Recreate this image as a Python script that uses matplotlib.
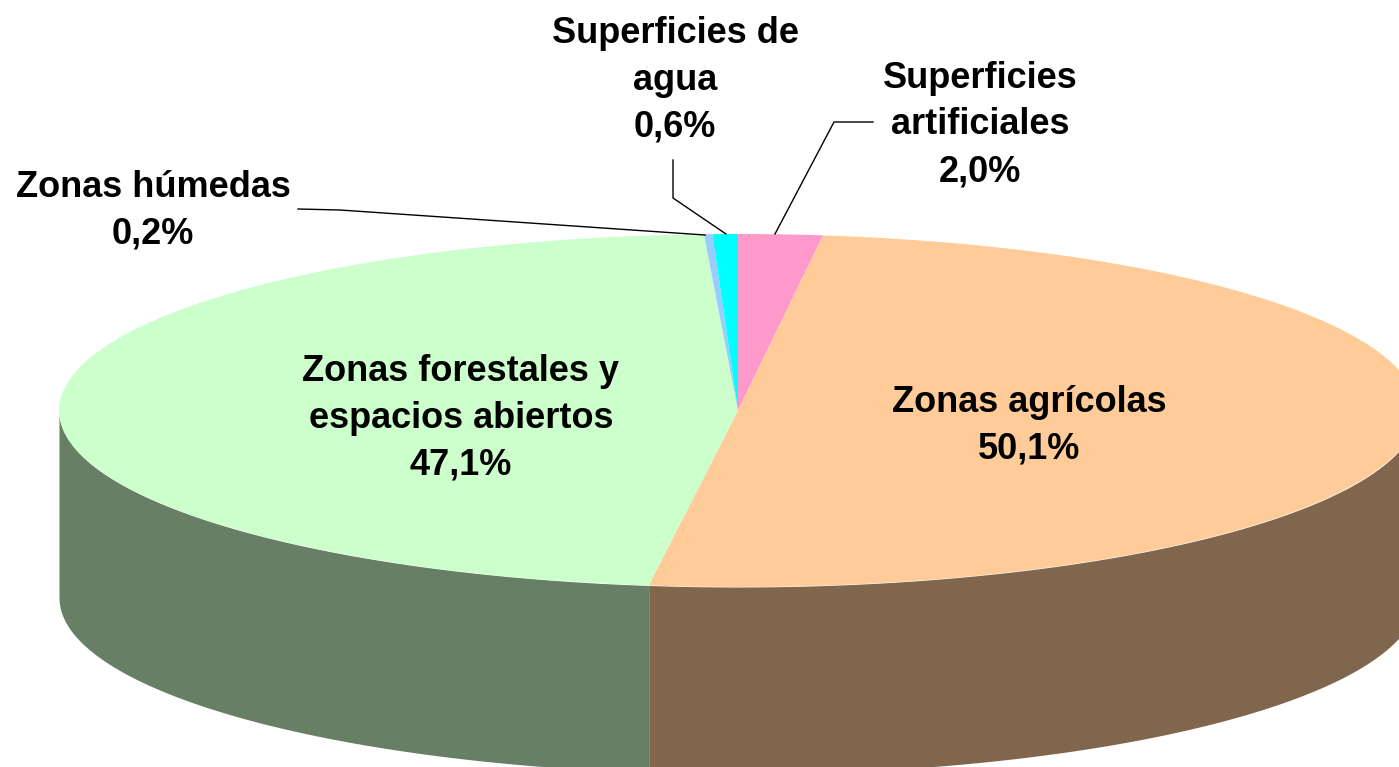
import numpy as np
import matplotlib
matplotlib.use("Agg")
import matplotlib.pyplot as plt

categories = ["Superficies artificiales", "Zonas agrícolas", "Zonas forestales y espacios abiertos",
              "Zonas húmedas", "Superficies de agua"]
values = [2.0, 50.1, 47.1, 0.2, 0.6]
top_colors = ["#FF99CC", "#FFCC99", "#CCFFCC", "#99CCFF", "#00FFFF"]
side_right = "#80664C"
side_left = "#677F64"
labels = ["Superficies\nartificiales\n2,0%", "Zonas agrícolas\n50,1%",
          "Zonas forestales y\nespacios abiertos\n47,1%", "Zonas húmedas\n0,2%",
          "Superficies de\nagua\n0,6%"]

W, H = 1399, 767
CX, CY, RX, RY, DEPTH = 738, 410.5, 679, 176.5, 187

plt.rcParams["font.family"] = ["Liberation Sans", "DejaVu Sans"]
fig = plt.figure(figsize=(W / 100, H / 100), dpi=100)

# pie axes: circle in data units, squashed to ellipse by the limits
ax = fig.add_axes([0, 0, 1, 1])
k = RX / RY
ax.pie(values, colors=top_colors, startangle=90, counterclock=False, radius=RX,
       wedgeprops=dict(linewidth=0, zorder=3))
ax.set_aspect("auto")
ax.set_xlim(-CX, W - CX)
ax.set_ylim((CY - H) * k, CY * k)

# extruded side, split where the agricultural wedge ends
split = 360 * (values[0] + values[1]) / sum(values)
def side(t0, t1, color):
    t = np.radians(np.linspace(t0, t1, 200))
    x = RX * np.sin(t)
    y = RX * np.cos(t)
    ax.fill_between(x, y - DEPTH * k, y, color=color, linewidth=0, zorder=2)
side(90, split, side_right)
side(split, 270, side_left)

# overlay in pixel coordinates
ov = fig.add_axes([0, 0, 1, 1])
ov.set_xlim(0, W)
ov.set_ylim(H, 0)
ov.axis("off")
ov.patch.set_alpha(0)

ov.plot([775, 834, 873], [234, 122, 122], color="black", lw=1)
ov.plot([726, 673, 673], [234, 198, 160], color="black", lw=1)
ov.plot([705, 340, 298], [235, 210, 209], color="black", lw=1)

positions = [(980, 125), (1029, 426), (461, 418), (153, 211), (675, 80)]
for lab, (x, y) in zip(labels, positions):
    ov.text(x, y, lab, ha="center", va="center", fontsize=26, fontweight="bold",
            linespacing=1.44, color="black")

fig.savefig("out.png", dpi=100)
